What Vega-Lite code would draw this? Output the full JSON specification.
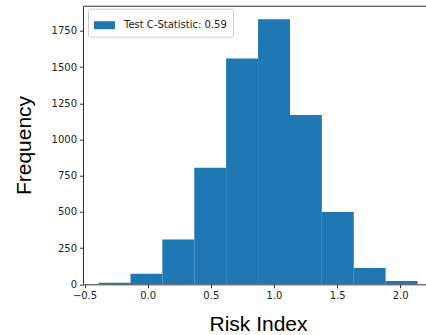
{
  "$schema": "https://vega.github.io/schema/vega-lite/v6.json",
  "autosize": "none",
  "width": 345,
  "height": 278.6,
  "padding": {"left": 83, "top": 5.7, "right": 0, "bottom": 50.7},
  "background": "white",
  "data": {
    "values": [
      {"start": -0.389, "end": -0.136, "count": 10, "label": "Test C-Statistic: 0.59"},
      {"start": -0.136, "end": 0.116, "count": 73, "label": "Test C-Statistic: 0.59"},
      {"start": 0.116, "end": 0.369, "count": 310, "label": "Test C-Statistic: 0.59"},
      {"start": 0.369, "end": 0.621, "count": 805, "label": "Test C-Statistic: 0.59"},
      {"start": 0.621, "end": 0.874, "count": 1560, "label": "Test C-Statistic: 0.59"},
      {"start": 0.874, "end": 1.127, "count": 1830, "label": "Test C-Statistic: 0.59"},
      {"start": 1.127, "end": 1.379, "count": 1170, "label": "Test C-Statistic: 0.59"},
      {"start": 1.379, "end": 1.632, "count": 500, "label": "Test C-Statistic: 0.59"},
      {"start": 1.632, "end": 1.884, "count": 113, "label": "Test C-Statistic: 0.59"},
      {"start": 1.884, "end": 2.137, "count": 22, "label": "Test C-Statistic: 0.59"}
    ]
  },
  "mark": {"type": "rect", "clip": true},
  "encoding": {
    "x": {
      "field": "start", "type": "quantitative",
      "scale": {"domain": [-0.512, 2.2195], "nice": false, "zero": false},
      "axis": {
        "values": [-0.5, 0, 0.5, 1, 1.5, 2], "format": ".1f",
        "title": "Risk Index", "grid": false,
        "titleX": 175, "titleY": 46, "titleAlign": "center", "titleBaseline": "alphabetic"
      }
    },
    "x2": {"field": "end"},
    "y": {
      "field": "count", "type": "quantitative",
      "scale": {"domain": [0, 1924], "nice": false},
      "axis": {
        "values": [0, 250, 500, 750, 1000, 1250, 1500, 1750], "format": "d",
        "title": "Frequency", "grid": false,
        "titleX": -53, "titleY": 139.3, "titleAngle": -90, "titleAlign": "center", "titleBaseline": "alphabetic"
      }
    },
    "y2": {"datum": 0},
    "color": {
      "field": "label", "type": "nominal",
      "scale": {"range": ["#1f77b4"]},
      "legend": {
        "title": null, "orient": "none", "legendX": 5, "legendY": 3,
        "symbolType": "M-1,-0.38H1V0.38H-1Z", "symbolSize": 441,
        "symbolStrokeWidth": 0, "symbolOpacity": 1,
        "labelFont": "DejaVu Sans", "labelFontSize": 10, "labelColor": "#222",
        "labelOffset": 9,
        "padding": 6, "strokeColor": "#cccccc", "fillColor": "white", "cornerRadius": 2
      }
    }
  },
  "config": {
    "view": {"stroke": "#333", "strokeWidth": 1},
    "axis": {
      "domain": false,
      "tickColor": "#333", "tickSize": 3.5, "tickWidth": 1,
      "labelFont": "DejaVu Sans", "labelFontSize": 10, "labelColor": "#222", "labelPadding": 3,
      "titleFont": "Liberation Sans", "titleFontSize": 21, "titleFontWeight": "normal", "titleColor": "#000"
    }
  }
}
